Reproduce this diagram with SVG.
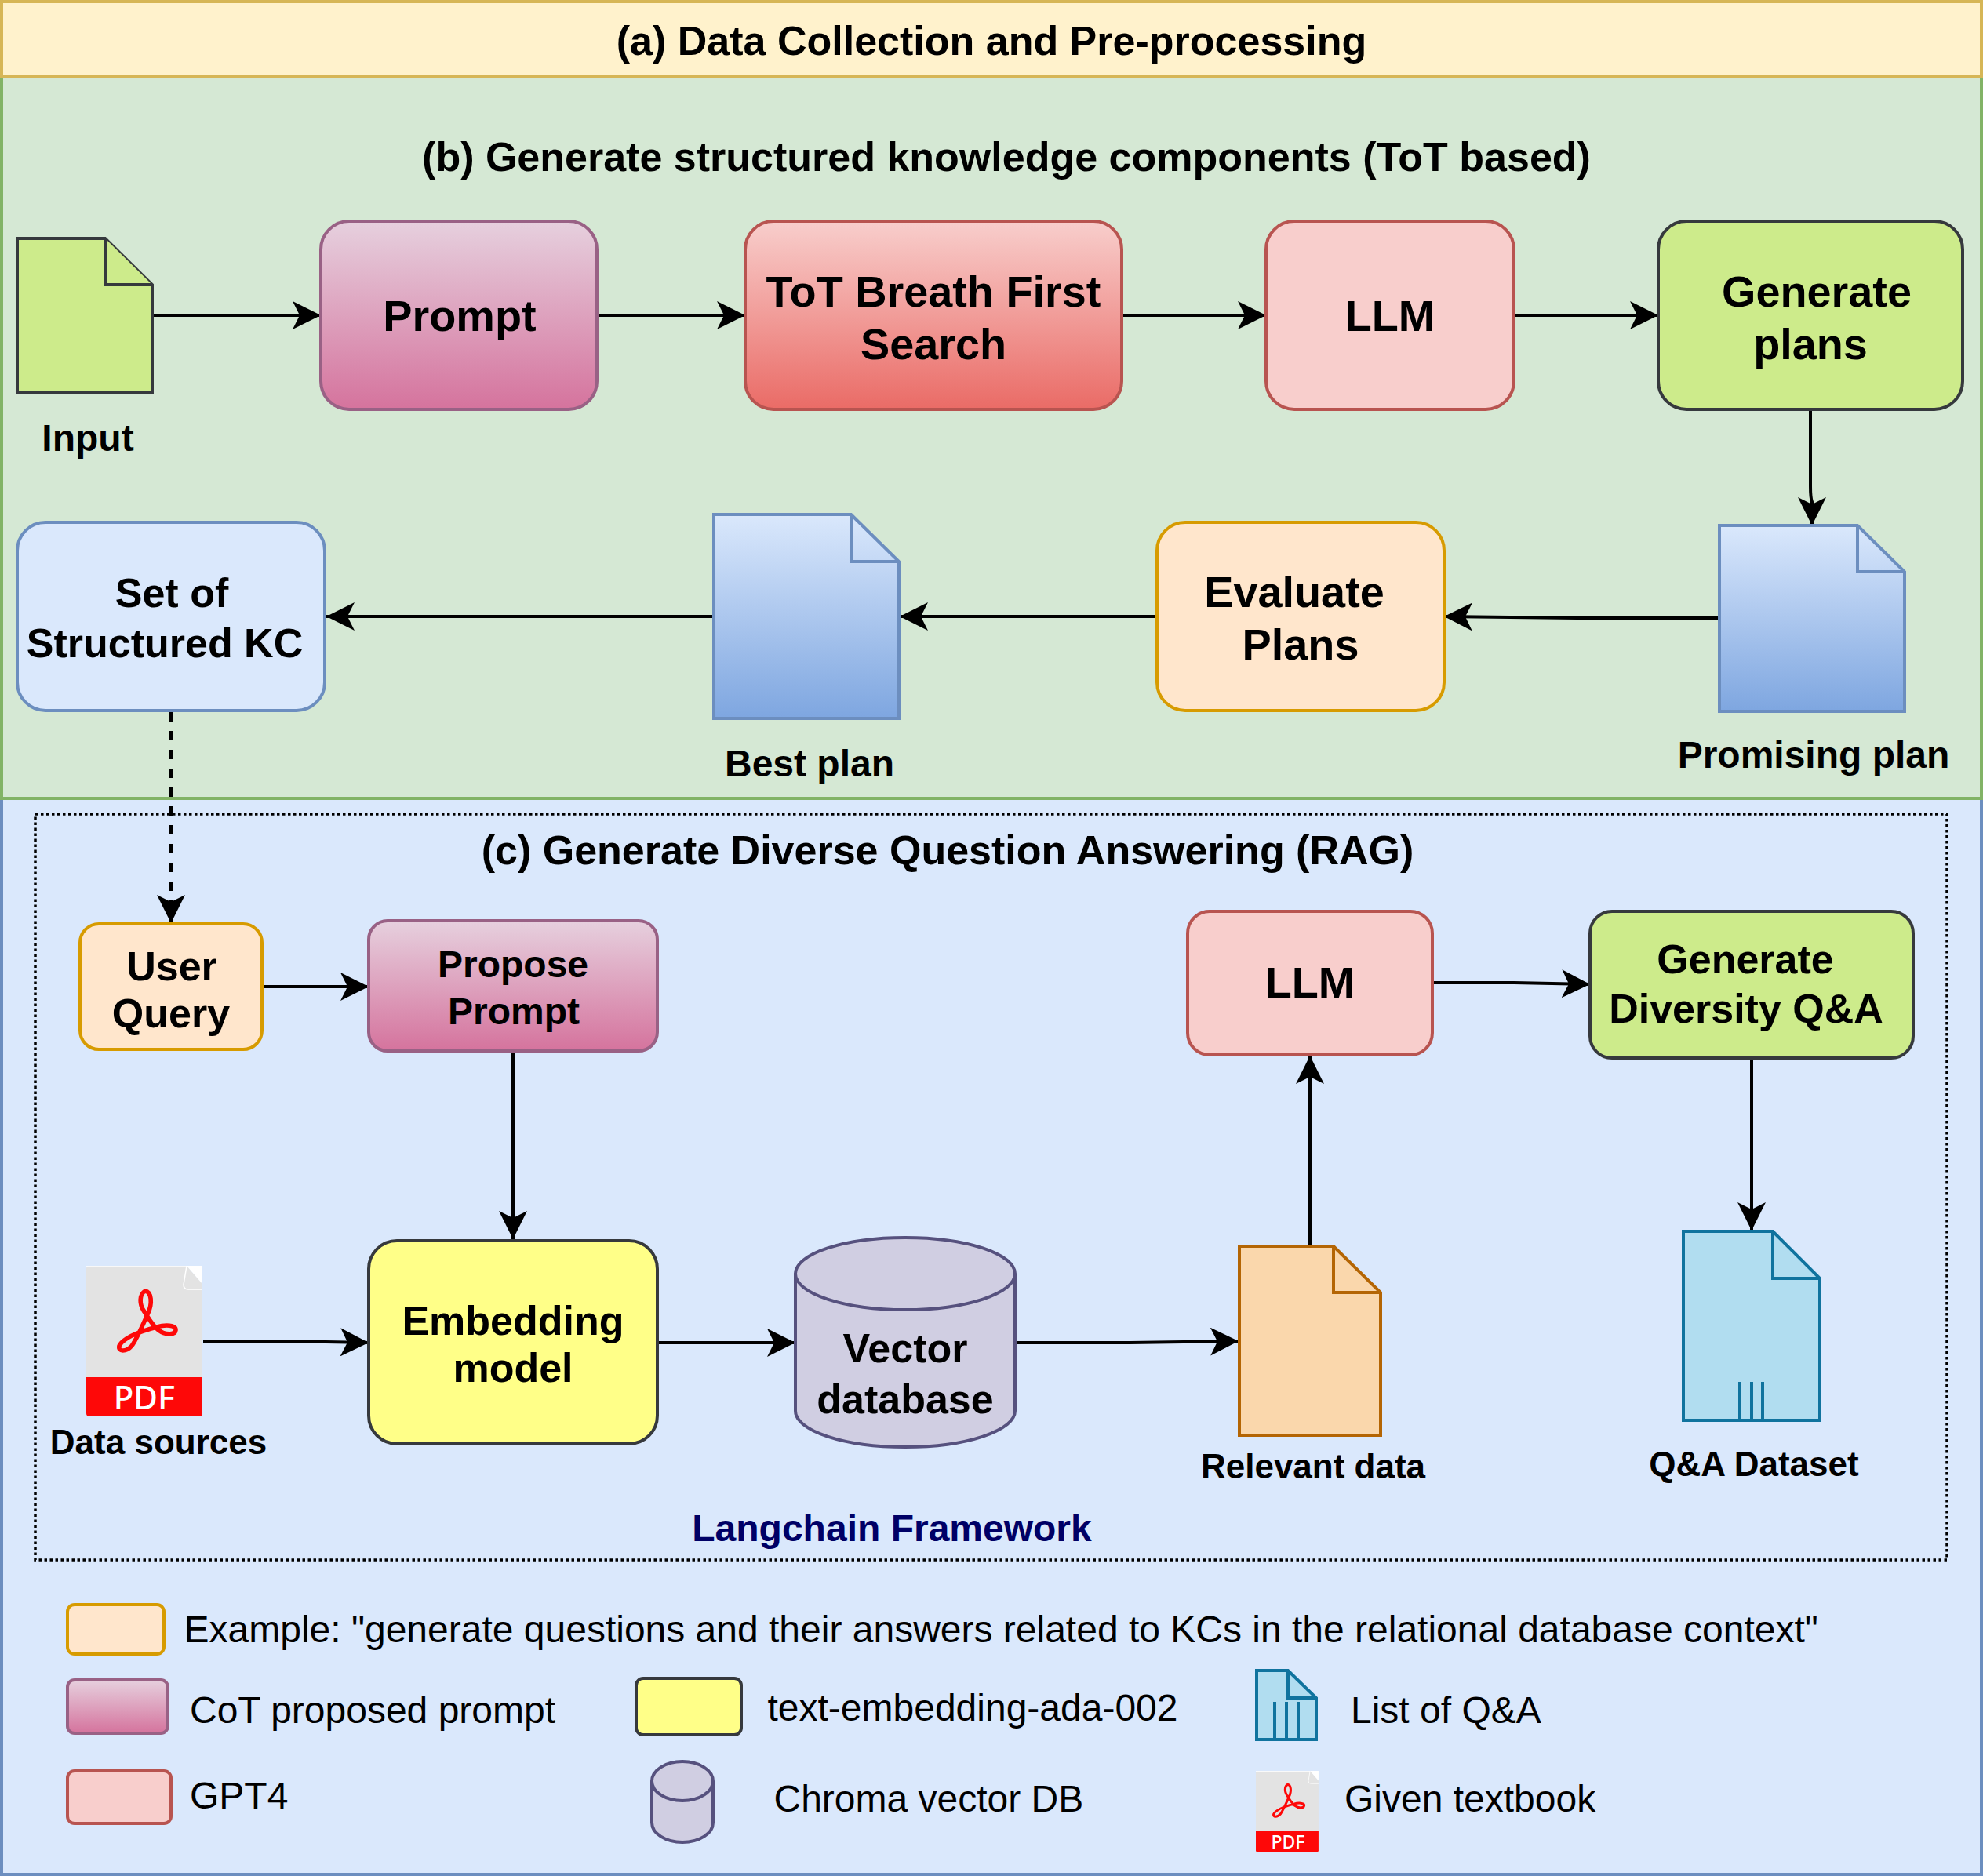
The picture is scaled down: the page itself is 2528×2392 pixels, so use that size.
<svg xmlns="http://www.w3.org/2000/svg" xmlns:xlink="http://www.w3.org/1999/xlink" width="2528" height="2392" viewBox="0 0 2528 2392">
<style>
text{font-family:"Liberation Sans",Arial,Helvetica,sans-serif;fill:#000}
.b{font-weight:bold;text-anchor:middle}
.s44{font-size:44px}.s48{font-size:48px}.s52{font-size:52px}.s55{font-size:55.8px}
.r{font-size:48px}
.n{stroke-width:4}
.c{fill:none;stroke:#000;stroke-width:4;marker-end:url(#ah)}
.orange{fill:#ffe6cc;stroke:#d79b00}
.pink{fill:url(#gPink);stroke:#996185}
.red{fill:url(#gRed);stroke:#b85450}
.lred{fill:#f8cecc;stroke:#b85450}
.green{fill:#cdeb8b;stroke:#36393d}
.lblue{fill:#dae8fc;stroke:#6c8ebf}
.blue{fill:url(#gBlue);stroke:#6c8ebf}
.yellow{fill:#ffff88;stroke:#36393d}
.purple{fill:#d0cee2;stroke:#56517e}
.tan{fill:#fad7ac;stroke:#b46504}
.cyan{fill:#b1ddf0;stroke:#10739e}
.pdft{font-family:"Noto Sans","Open Sans",sans-serif;font-weight:500;fill:#fff;text-anchor:middle}
</style>
<defs>
<linearGradient id="gPink" x1="0" y1="0" x2="0" y2="1"><stop offset="0" stop-color="#e6d0de"/><stop offset="1" stop-color="#d5739d"/></linearGradient>
<linearGradient id="gRed" x1="0" y1="0" x2="0" y2="1"><stop offset="0" stop-color="#f8cecc"/><stop offset="1" stop-color="#ea6b66"/></linearGradient>
<linearGradient id="gBlue" x1="0" y1="0" x2="0" y2="1"><stop offset="0" stop-color="#dae8fc"/><stop offset="1" stop-color="#7ea6e0"/></linearGradient>
<marker id="ah" markerUnits="userSpaceOnUse" markerWidth="36" markerHeight="36" refX="36" refY="18" orient="auto"><path d="M0 0L36 18L0 36L9 18Z" fill="#000"/></marker>
<g id="pdfBase">
<path d="M4 0H128L148 23V192H4Q0 192 0 188V4Q0 0 4 0Z" fill="#e3e3e3"/>
<path d="M0 142H148V188Q148 192 144 192H4Q0 192 0 188Z" fill="#fe0808"/>
<path d="M128 0H148V23Z" fill="#fff"/>
<path d="M128 0L124 24Q124 30 130 30H148" fill="none" stroke="#fff" stroke-width="1.5"/>
<path d="M0 1H128" fill="none" stroke="#fff" stroke-width="1.5"/>
<path d="M42 102C47 92 67 84 90 78C100 75 115 75 114 82C113 89 100 88 92 82C83 75 78 64 73 57C68 49 67 37 75 32C83 33 85 48 78 62C73 73 65 92 58 102C51 110 40 110 42 102Z" fill="none" stroke="#fe0808" stroke-width="5.6"/>
</g>
</defs>

<g id="panel-c"><rect x="2" y="1018" width="2524" height="1372" fill="#dae8fc" stroke="#6c8ebf" stroke-width="4"/></g>
<g id="panel-b"><rect x="2" y="98" width="2524" height="920" fill="#d5e8d4" stroke="#82b366" stroke-width="4"/></g>
<g id="panel-a"><rect x="2" y="2" width="2524" height="96" fill="#fff2cc" stroke="#d6b656" stroke-width="4"/><text class="b s52" x="1264" y="70">(a) Data Collection and Pre-processing</text></g>
<text id="title-b" class="b s52" x="1283" y="218">(b) Generate structured knowledge components (ToT based)</text>
<g id="frame-c"><rect x="45" y="1038" width="2437" height="951" fill="none" stroke="#000" stroke-width="3.5" stroke-dasharray="3.5 3.5"/><text class="b s52" x="1208" y="1102">(c) Generate Diverse Question Answering (RAG)</text></g>

<g id="connectors">
<path class="c" d="M196 402H409"/>
<path class="c" d="M762 402H950"/>
<path class="c" d="M1431 402H1614"/>
<path class="c" d="M1931 402H2114"/>
<path class="c" d="M2308 524V620Q2308 635 2310 640V670"/>
<path class="c" d="M2192 788H2010L1841 786"/>
<path class="c" d="M1475 786H1147"/>
<path class="c" d="M910 786H416"/>
<path class="c" d="M218 908V1177" stroke-dasharray="12 12"/>
<path class="c" d="M335 1258H470"/>
<path class="c" d="M654 1342V1580"/>
<path class="c" d="M259 1710H360L470 1712"/>
<path class="c" d="M839 1712H1014"/>
<path class="c" d="M1295 1712H1440L1579 1710"/>
<path class="c" d="M1670 1588V1346"/>
<path class="c" d="M1827 1253H1930L2027 1255"/>
<path class="c" d="M2233 1350V1569"/>
</g>

<g id="input"><path class="n green" d="M22 304H134L194 363V500H22Z"/><path class="n green" d="M134 304V363H194"/><text class="b s48" x="112" y="575">Input</text></g>
<g id="prompt"><rect class="n pink" x="409" y="282" width="352" height="240" rx="36"/><text class="b s55" x="586" y="422">Prompt</text></g>
<g id="tot"><rect class="n red" x="950" y="282" width="480" height="240" rx="36"/><text class="b s55" x="1190" y="391">ToT Breath First</text><text class="b s55" x="1190" y="458">Search</text></g>
<g id="llm-b"><rect class="n lred" x="1614" y="282" width="316" height="240" rx="36"/><text class="b s55" x="1772" y="422">LLM</text></g>
<g id="generate-plans"><rect class="n green" x="2114" y="282" width="388" height="240" rx="36"/><text class="b s55" x="2316" y="391">Generate</text><text class="b s55" x="2308" y="458">plans</text></g>
<g id="promising-plan"><path class="n blue" d="M2192 670H2368L2428 729V907H2192Z"/><path class="n" fill="none" stroke="#6c8ebf" d="M2368 670V729H2428"/><text class="b s48" x="2312" y="979">Promising plan</text></g>
<g id="evaluate"><rect class="n orange" x="1475" y="666" width="366" height="240" rx="36"/><text class="b s55" x="1650" y="774">Evaluate</text><text class="b s55" x="1658" y="841">Plans</text></g>
<g id="best-plan"><path class="n blue" d="M910 656H1085L1146 716V916H910Z"/><path class="n" fill="none" stroke="#6c8ebf" d="M1085 656V716H1146"/><text class="b s48" x="1032" y="990">Best plan</text></g>
<g id="set-kc"><rect class="n lblue" x="22" y="666" width="392" height="240" rx="36"/><text class="b s52" x="219" y="774">Set of</text><text class="b s52" x="210" y="838">Structured KC</text></g>

<g id="user-query"><rect class="n orange" x="102" y="1178" width="232" height="160" rx="24"/><text class="b s52" x="219" y="1250">User</text><text class="b s52" x="218" y="1310">Query</text></g>
<g id="propose-prompt"><rect class="n pink" x="470" y="1174" width="368" height="166" rx="24"/><text class="b s48" x="654" y="1246">Propose</text><text class="b s48" x="655" y="1306">Prompt</text></g>
<g id="data-sources"><use href="#pdfBase" transform="translate(110 1614)"/><text class="pdft" x="184" y="1797" font-size="42">PDF</text><text class="b s44" x="202" y="1854">Data sources</text></g>
<g id="embedding"><rect class="n yellow" x="470" y="1582" width="368" height="259" rx="36"/><text class="b s52" x="654" y="1702">Embedding</text><text class="b s52" x="654" y="1762">model</text></g>
<g id="vector-db"><path class="n purple" d="M1014 1624A140 46 0 0 1 1294 1624V1799A140 46 0 0 1 1014 1799Z"/><path class="n" fill="none" stroke="#56517e" d="M1014 1624A140 46 0 0 0 1294 1624"/><text class="b s52" x="1154" y="1737">Vector</text><text class="b s52" x="1154" y="1802">database</text></g>
<g id="relevant-data"><path class="n tan" d="M1580 1589H1700L1760 1648V1830H1580Z"/><path class="n" fill="none" stroke="#b46504" d="M1700 1589V1648H1760"/><text class="b s44" x="1674" y="1885">Relevant data</text></g>
<g id="llm-c"><rect class="n lred" x="1514" y="1162" width="312" height="183" rx="28"/><text class="b s55" x="1670" y="1272">LLM</text></g>
<g id="generate-qa"><rect class="n green" x="2027" y="1162" width="412" height="187" rx="28"/><text class="b s52" x="2225" y="1241">Generate</text><text class="b s52" x="2226" y="1304">Diversity Q&amp;A</text></g>
<g id="qa-dataset"><path class="n cyan" d="M2146 1570H2260L2320 1630V1811H2146Z"/><path class="n" fill="none" stroke="#10739e" d="M2260 1570V1630H2320M2218 1762V1811M2233 1762V1811M2247 1762V1811"/><text class="b s44" x="2236" y="1882">Q&amp;A Dataset</text></g>
<text id="langchain" class="b s48" x="1137" y="1965" style="fill:#000066">Langchain Framework</text>

<g id="legend">
<rect class="n orange" x="86" y="2046" width="123" height="63" rx="9"/><text class="r" x="234.500" y="2094">Example: "generate questions and their answers related to KCs in the relational database context"</text>
<rect class="n pink" x="86" y="2142" width="128" height="68" rx="9"/><text class="r" x="242" y="2197">CoT proposed prompt</text>
<rect class="n yellow" x="811" y="2140" width="134" height="72" rx="9"/><text class="r" x="978.500" y="2194">text-embedding-ada-002</text>
<path class="n cyan" d="M1602 2130H1642L1678 2165V2218H1602Z"/><path class="n" fill="none" stroke="#10739e" d="M1642 2130V2165H1678M1625 2170V2218M1640 2170V2218M1655 2170V2218"/><text class="r" x="1722" y="2197">List of Q&amp;A</text>
<rect class="n lred" x="86" y="2258" width="132" height="67" rx="9"/><text class="r" x="242" y="2306">GPT4</text>
<path class="n purple" d="M831 2271A39 25 0 0 1 909 2271V2324A39 25 0 0 1 831 2324Z"/><path class="n" fill="none" stroke="#56517e" d="M831 2271A39 25 0 0 0 909 2271"/><text class="r" x="986.500" y="2310">Chroma vector DB</text>
<use href="#pdfBase" transform="translate(1601 2258) scale(.54)"/><text class="pdft" x="1642" y="2357" font-size="23">PDF</text><text class="r" x="1714" y="2310">Given textbook</text>
</g>
</svg>
